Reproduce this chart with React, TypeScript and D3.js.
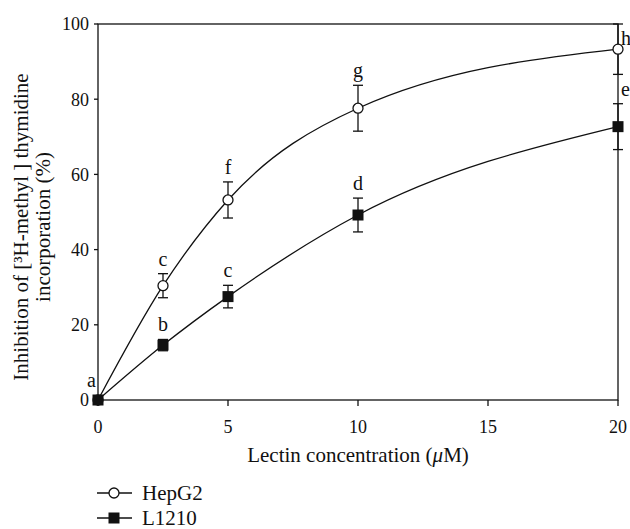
import React from 'react';
import * as d3 from 'd3';

const width = 630;
const height = 529;
const margin = { top: 24, right: 12, bottom: 129, left: 98 };
const ink = '#111';
const font = '"Liberation Serif", "Times New Roman", serif';

// lectin concentration (uM)
const concentrations = [0, 2.5, 5, 10, 20];

const hepg2Mean = [0, 30.4, 53.2, 77.6, 93.3];
const hepg2Err = [0, 3.2, 4.8, 6.1, 6.7];
const hepg2Letters = ['a', 'c', 'f', 'g', 'h'];

const l1210Mean = [0, 14.6, 27.5, 49.2, 72.7];
const l1210Err = [0, 1.5, 3.0, 4.5, 6.1];
const l1210Letters = ['', 'b', 'c', 'd', 'e'];

const xTicks = [0, 5, 10, 15, 20];
const yTicks = [0, 20, 40, 60, 80, 100];

const seriesNames = ['HepG2', 'L1210'];

const x = d3.scaleLinear().domain([0, 20]).range([margin.left, width - margin.right]);
const y = d3.scaleLinear().domain([0, 100]).range([height - margin.bottom, margin.top]);

const line = d3
  .line<number>()
  .x((_, i) => x(concentrations[i]))
  .y(d => y(d))
  .curve(d3.curveMonotoneX);

const series = [
  { name: seriesNames[0], mean: hepg2Mean, err: hepg2Err, letters: hepg2Letters, marker: 'circle' },
  { name: seriesNames[1], mean: l1210Mean, err: l1210Err, letters: l1210Letters, marker: 'square' }
];

function Marker({ type, cx, cy }: { type: string; cx: number; cy: number }) {
  if (type === 'circle') {
    return <circle cx={cx} cy={cy} r={5} fill="#fff" stroke={ink} strokeWidth={1.3} />;
  }
  return <rect x={cx - 5.5} y={cy - 5.5} width={11} height={11} fill={ink} />;
}

export default function App() {
  const x0 = x(0);
  const x1 = x(20);
  const y0 = y(0);
  const y1 = y(100);

  return (
    <svg
      width={width}
      height={height}
      style={{ position: 'absolute', left: 0, top: 0, background: '#fff' }}
      fontFamily={font}
    >
      {/* frame */}
      <rect x={x0} y={y1} width={x1 - x0} height={y0 - y1} fill="none" stroke={ink} strokeWidth={1.3} />

      {/* y axis */}
      {yTicks.map(t => (
        <g key={'y' + t}>
          <line x1={x0 - 4} x2={x0} y1={y(t)} y2={y(t)} stroke={ink} strokeWidth={1.3} />
          <text x={x0 - 9} y={y(t)} dy="0.35em" textAnchor="end" fontSize={18} fill={ink}>
            {t}
          </text>
        </g>
      ))}

      {/* x axis */}
      {xTicks.map(t => (
        <g key={'x' + t}>
          <line x1={x(t)} x2={x(t)} y1={y0} y2={y0 + 6} stroke={ink} strokeWidth={1.3} />
          <text x={x(t)} y={y0 + 33} textAnchor="middle" fontSize={18} fill={ink}>
            {t}
          </text>
        </g>
      ))}

      <text x={(x0 + x1) / 2} y={462} textAnchor="middle" fontSize={21} fill={ink}>
        Lectin concentration (<tspan fontStyle="italic">μ</tspan>M)
      </text>

      <g transform="translate(28,227) rotate(-90)">
        <text textAnchor="middle" fontSize={21} fill={ink}>
          Inhibition of [³H-methyl ] thymidine
        </text>
        <text y={22} textAnchor="middle" fontSize={21} fill={ink}>
          incorporation (%)
        </text>
      </g>

      {/* curves */}
      {series.map(s => (
        <path key={s.name + 'line'} d={line(s.mean) || ''} fill="none" stroke={ink} strokeWidth={1.3} />
      ))}

      {/* error bars */}
      {series.map(s =>
        s.mean.map((m, i) =>
          s.err[i] > 0 ? (
            <g key={s.name + 'e' + i} stroke={ink} strokeWidth={1.3}>
              <line x1={x(concentrations[i])} x2={x(concentrations[i])} y1={y(m - s.err[i])} y2={y(m + s.err[i])} />
              <line x1={x(concentrations[i]) - 5} x2={x(concentrations[i]) + 5} y1={y(m + s.err[i])} y2={y(m + s.err[i])} />
              <line x1={x(concentrations[i]) - 5} x2={x(concentrations[i]) + 5} y1={y(m - s.err[i])} y2={y(m - s.err[i])} />
            </g>
          ) : null
        )
      )}

      {/* markers */}
      {series.map(s =>
        s.mean.map((m, i) => (
          <Marker key={s.name + 'm' + i} type={s.marker} cx={x(concentrations[i])} cy={y(m)} />
        ))
      )}

      {/* significance letters */}
      {series.map(s =>
        s.letters.map((l, i) => {
          if (!l) return null;
          const cx = x(concentrations[i]);
          const cy = y(s.mean[i]);
          const capTop = y(s.mean[i] + s.err[i]);
          let lx = cx;
          let ly = capTop - 8;
          let anchor = 'middle';
          if (i === 0) {
            lx = cx - 2;
            ly = cy - 13;
            anchor = 'end';
          } else if (concentrations[i] === 20) {
            lx = cx + 3;
            anchor = 'start';
            if (ly < margin.top + 10) ly = cy - 4;
          }
          return (
            <text key={s.name + 'l' + i} x={lx} y={ly} textAnchor={anchor} fontSize={20} fill={ink}>
              {l}
            </text>
          );
        })
      )}

      {/* legend */}
      {series.map((s, i) => {
        const ly = 493 + i * 25;
        return (
          <g key={s.name + 'legend'}>
            <line x1={97} x2={132} y1={ly} y2={ly} stroke={ink} strokeWidth={1.3} />
            <Marker type={s.marker} cx={114} cy={ly} />
            <text x={142} y={ly + 6.5} fontSize={21} fill={ink}>
              {s.name}
            </text>
          </g>
        );
      })}
    </svg>
  );
}
